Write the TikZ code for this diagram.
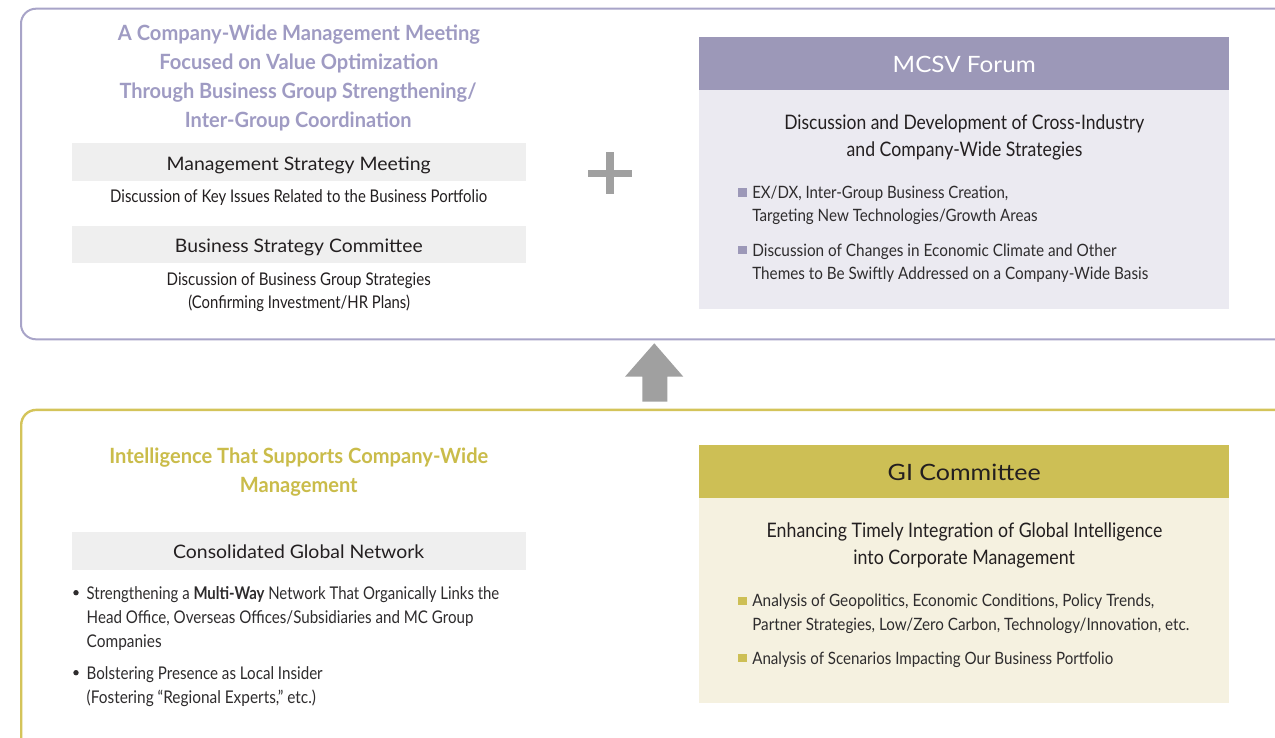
\documentclass[tikz,border=0pt]{standalone}
\usepackage{fontspec}
\usepackage{graphicx}
\setmainfont{Lato}
\definecolor{lavb}{HTML}{A8A4C8}
\definecolor{lavtitle}{HTML}{9F9BC3}
\definecolor{lavhead}{HTML}{9C98B8}
\definecolor{lavbody}{HTML}{EBEAF1}
\definecolor{goldb}{HTML}{D4C45A}
\definecolor{goldtitle}{HTML}{CABC4A}
\definecolor{goldhead}{HTML}{CDBF55}
\definecolor{goldbody}{HTML}{F5F1E0}
\definecolor{barg}{HTML}{EFEFEF}
\definecolor{ink}{HTML}{231F20}
\definecolor{bodyink}{HTML}{2E2C2D}
\definecolor{arrowg}{HTML}{A0A0A0}
\newsavebox\fitbox
\newlength\fitlen
\newcommand\fitw[2]{\sbox\fitbox{#2}\setlength\fitlen{\wd\fitbox}\pgfmathsetmacro\fitf{#1/\fitlen}\scalebox{\fitf}[1]{\usebox\fitbox}}
\tikzset{
  ln/.style={anchor=base, inner sep=0pt, outer sep=0pt, text=ink},
  lnw/.style={anchor=base west, inner sep=0pt, outer sep=0pt, text=bodyink},
  ttl/.style={ln, font=\fontsize{21}{21}\selectfont\bfseries},
  bart/.style={ln, font=\fontsize{18.6}{18.6}\selectfont},
  body/.style={ln, font=\fontsize{17.5}{17.5}\selectfont},
  sub/.style={ln, font=\fontsize{20}{20}\selectfont},
  headt/.style={ln, font=\fontsize{22.5}{22.5}\selectfont},
  bul/.style={lnw, font=\fontsize{17}{17}\selectfont},
  blk/.style={anchor=north west, inner sep=0pt, outer sep=0pt, draw=none},
  bar/.style={blk, fill=barg, minimum width=454pt, minimum height=37.2pt},
  panel/.style={anchor=north west, inner sep=0pt, rounded corners=15pt, line width=2pt, fill=none},
  sq/.style={blk, minimum width=8.4pt, minimum height=8.4pt},
}
\begin{document}
\begin{tikzpicture}[x=1pt,y=-1pt]
\useasboundingbox (0,0) rectangle (1275,737);
\clip (0,0) rectangle (1275,737);
\fill[white] (0,0) rectangle (1275,737);

% outer panels
\node (mgmt) [panel, draw=lavb, minimum width=1320pt, minimum height=330.6pt] at (20,7.7) {};
\node (intel) [panel, draw=goldb, line width=2.4pt, minimum width=1320pt, minimum height=400pt] at (20,408.7) {};

% ---------- top left ----------
\node (t1) [ttl, text=lavtitle] at (299,40) {\fitw{362}{A Company-Wide Management Meeting}};
\node (t2) [ttl, text=lavtitle] at (298.8,69.3) {\fitw{279}{Focused on Value Optimization}};
\node (t3) [ttl, text=lavtitle] at (298,98.5) {\fitw{357}{Through Business Group Strengthening/}};
\node (t4) [ttl, text=lavtitle] at (298.3,127.7) {\fitw{226.7}{Inter-Group Coordination}};

\node (msmbar) [bar] at (72,143.3) {};
\node (msm) [bart] at (298.7,170) {\fitw{264}{Management Strategy Meeting}};
\node (msmd) [body] at (298.7,202.7) {\fitw{377}{Discussion of Key Issues Related to the Business Portfolio}};

\node (bscbar) [bar] at (72,226) {};
\node (bsc) [bart] at (298.8,252.7) {\fitw{247.7}{Business Strategy Committee}};
\node (bscd1) [body] at (298.7,285) {\fitw{264}{Discussion of Business Group Strategies}};
\node (bscd2) [body] at (299.1,308) {\fitw{221.7}{(Confirming Investment/HR Plans)}};

% plus sign
\fill[arrowg] (606,151.7) rectangle (614,194.3);
\fill[arrowg] (588.3,170) rectangle (631.7,176.5);

% ---------- MCSV forum ----------
\node (mcsvh) [blk, fill=lavhead, minimum width=530.3pt, minimum height=53.3pt] at (699,36.7) {};
\node (mcsvb) [blk, fill=lavbody, minimum width=530.3pt, minimum height=219.3pt] at (699,90) {};
\node (mcsvt) [headt, text=white] at (964.2,72.7) {\fitw{143}{MCSV Forum}};
\node (mcsvs1) [sub] at (964.3,129.3) {\fitw{360}{Discussion and Development of Cross-Industry}};
\node (mcsvs2) [sub] at (964.5,156) {\fitw{235.7}{and Company-Wide Strategies}};
\node (mq1) [sq, fill=lavhead] at (738.3,188.3) {};
\node (mb1a) [bul] at (752.3,198.3) {\fitw{256}{EX/DX, Inter-Group Business Creation,}};
\node (mb1b) [bul] at (752.3,221.7) {\fitw{285.3}{Targeting New Technologies/Growth Areas}};
\node (mq2) [sq, fill=lavhead] at (738.3,246) {};
\node (mb2a) [bul] at (752.3,256) {\fitw{364.3}{Discussion of Changes in Economic Climate and Other}};
\node (mb2b) [bul] at (752.3,279.3) {\fitw{396}{Themes to Be Swiftly Addressed on a Company-Wide Basis}};

% ---------- up arrow ----------
\coordinate (arrtip) at (654.3,343.3);
\coordinate (arrbase) at (654.8,401.7);
\fill[arrowg] (arrtip) -- (683.3,376.7) -- (667.3,376.7) -- (667.3,401.7) -- (642.3,401.7) -- (642.3,376.7) -- (625,376.7) -- cycle;

% ---------- bottom left ----------
\node (g1) [ttl, text=goldtitle] at (298.8,463.3) {\fitw{379}{Intelligence That Supports Company-Wide}};
\node (g2) [ttl, text=goldtitle] at (298.8,492.7) {\fitw{117.7}{Management}};
\node (cgnbar) [bar] at (72,532.3) {};
\node (cgn) [bart] at (298.7,558.3) {\fitw{251}{Consolidated Global Network}};
\fill[bodyink] (76,592.7) circle (2.7);
\node (cb1a) [bul, font=\fontsize{17.5}{17.5}\selectfont] at (86.7,599.3) {\fitw{412.6}{Strengthening a \textbf{Multi-Way} Network That Organically Links the}};
\node (cb1b) [bul, font=\fontsize{17.5}{17.5}\selectfont] at (86.7,623.3) {\fitw{386.7}{Head Office, Overseas Offices/Subsidiaries and MC Group}};
\node (cb1c) [bul, font=\fontsize{17.5}{17.5}\selectfont] at (86.7,647) {\fitw{75}{Companies}};
\fill[bodyink] (76,672.7) circle (2.7);
\node (cb2a) [bul, font=\fontsize{17.5}{17.5}\selectfont] at (86.7,679.3) {\fitw{236}{Bolstering Presence as Local Insider}};
\node (cb2b) [bul, font=\fontsize{17.5}{17.5}\selectfont] at (86.7,703.3) {\fitw{229.3}{(Fostering “Regional Experts,” etc.)}};

% ---------- GI committee ----------
\node (gih) [blk, fill=goldhead, minimum width=530.3pt, minimum height=52.7pt] at (699,445) {};
\node (gib) [blk, fill=goldbody, minimum width=530.3pt, minimum height=205pt] at (699,497.7) {};
\node (git) [headt] at (964.2,480.7) {\fitw{153}{GI Committee}};
\node (gis1) [sub] at (964.5,537.3) {\fitw{395.6}{Enhancing Timely Integration of Global Intelligence}};
\node (gis2) [sub] at (964.2,564) {\fitw{221.7}{into Corporate Management}};
\node (gq1) [sq, fill=goldhead] at (738.3,596.7) {};
\node (gb1a) [bul] at (752.3,606.7) {\fitw{402}{Analysis of Geopolitics, Economic Conditions, Policy Trends,}};
\node (gb1b) [bul] at (752.3,630) {\fitw{437}{Partner Strategies, Low/Zero Carbon, Technology/Innovation, etc.}};
\node (gq2) [sq, fill=goldhead] at (738.3,654) {};
\node (gb2) [bul] at (752.3,664) {\fitw{361}{Analysis of Scenarios Impacting Our Business Portfolio}};
\end{tikzpicture}
\end{document}
